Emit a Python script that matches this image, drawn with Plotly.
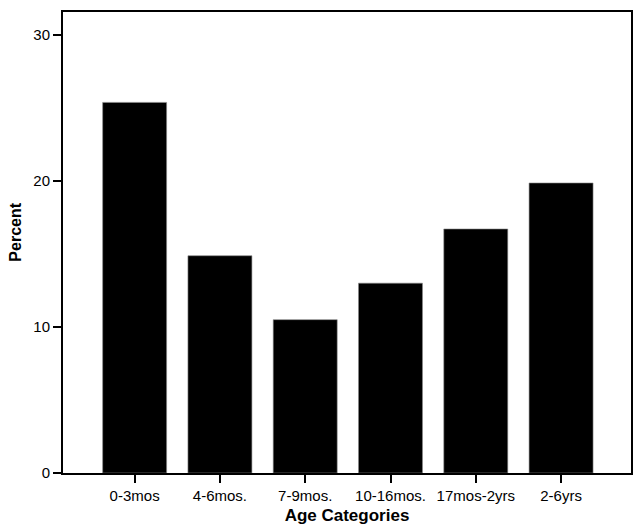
import plotly.graph_objects as go

categories = ["0-3mos", "4-6mos.", "7-9mos.", "10-16mos.", "17mos-2yrs", "2-6yrs"]
percent = [25.38, 14.88, 10.5, 13.0, 16.71, 19.86]
y_ticks = [0, 10, 20, 30]

font = "Liberation Sans, Arial, Helvetica, sans-serif"

fig = go.Figure(go.Bar(
    x=list(range(len(categories))), y=percent,
    width=0.75,
    marker=dict(color="black", line=dict(color="#888888", width=0.6)),
))

fig.update_layout(
    width=633, height=529,
    margin=dict(l=63, r=0, t=12, b=56),
    plot_bgcolor="white", paper_bgcolor="white",
    showlegend=False,
    font=dict(family=font, size=16, color="black"),
    xaxis=dict(
        range=[-0.84, 5.82], tickmode="array",
        tickvals=list(range(len(categories))), ticktext=categories,
        showline=True, linecolor="black", linewidth=2, mirror=True,
        ticks="outside", ticklen=8, tickwidth=2, tickcolor="black",
        showgrid=False, zeroline=False,
        tickfont=dict(size=15),
        title=dict(text="<b>Age Categories</b>", font=dict(size=17), standoff=6),
    ),
    yaxis=dict(
        range=[0, 31.57], tickmode="array", tickvals=y_ticks,
        showline=True, linecolor="black", linewidth=2, mirror=True,
        ticks="outside", ticklen=8, tickwidth=2, tickcolor="black",
        showgrid=False, zeroline=False,
        tickfont=dict(size=15),
    ),
    annotations=[dict(
        text="<b>Percent</b>", xref="paper", yref="paper",
        x=-0.084, y=0.522, xanchor="center", yanchor="middle",
        textangle=-90, showarrow=False, font=dict(size=16),
    )],
)

fig.write_html("out.html", config={"displayModeBar": False},
               post_script="document.body.style.margin='0';")
